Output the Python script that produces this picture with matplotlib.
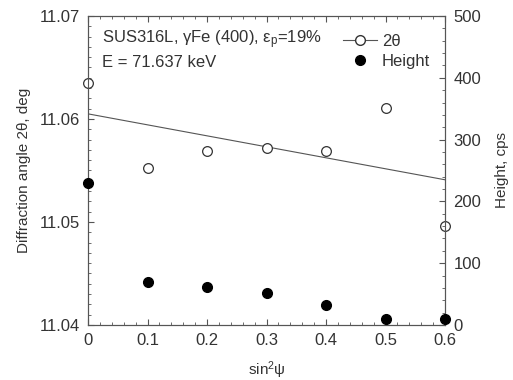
import numpy as np
import matplotlib.pyplot as plt
from matplotlib.ticker import MultipleLocator
from matplotlib.lines import Line2D

plt.rcParams['font.family'] = ['Liberation Sans', 'DejaVu Sans']
plt.rcParams['mathtext.fontset'] = 'custom'
plt.rcParams['mathtext.rm'] = 'Liberation Sans'
plt.rcParams['mathtext.it'] = 'Liberation Sans'

sin2psi = [0.0, 0.1, 0.2, 0.3, 0.4, 0.5, 0.6]
two_theta = [11.0635, 11.0552, 11.0569, 11.0572, 11.0569, 11.0611, 11.0496]
height = [230, 69, 61, 51, 32, 10, 9]
fit_x = [0.0, 0.6]
fit_y = [11.0605, 11.0541]

ink = '#333333'
fs = 12

fig = plt.figure(figsize=(5.13, 3.80), dpi=100)
ax = fig.add_axes([88 / 513, 55 / 380, 357 / 513, 309 / 380])
ax2 = ax.twinx()

ax.plot(fit_x, fit_y, color='#555555', lw=0.8)
ax.plot(sin2psi, two_theta, 'o', ms=7, mfc='white', mec=ink, mew=0.9, clip_on=False, zorder=5)
ax2.plot(sin2psi, height, 'o', ms=7, mfc='black', mec='black', clip_on=False, zorder=5)

ax.set_xlim(0, 0.6)
ax.set_ylim(11.04, 11.07)
ax2.set_ylim(0, 500)

ax.xaxis.set_major_locator(MultipleLocator(0.1))
ax.xaxis.set_minor_locator(MultipleLocator(0.02))
ax.yaxis.set_major_locator(MultipleLocator(0.01))
ax.yaxis.set_minor_locator(MultipleLocator(0.001))
ax2.yaxis.set_major_locator(MultipleLocator(100))
ax2.yaxis.set_minor_locator(MultipleLocator(20))

ax.set_xticks([0, 0.1, 0.2, 0.3, 0.4, 0.5, 0.6])
ax.set_xticklabels(['0', '0.1', '0.2', '0.3', '0.4', '0.5', '0.6'])
ax.set_yticks([11.04, 11.05, 11.06, 11.07])
ax.set_yticklabels(['11.04', '11.05', '11.06', '11.07'])

for a in (ax, ax2):
    for s in a.spines.values():
        s.set_color('#555555')
        s.set_linewidth(0.8)
    a.tick_params(which='both', direction='in', colors='#555555', labelcolor=ink, labelsize=fs, pad=6)
    a.tick_params(which='major', length=4)
    a.tick_params(which='minor', length=2.5)
ax.tick_params(which='both', top=True, right=False)
ax2.tick_params(which='both', left=False, right=True)

ax.set_xlabel(r'sin$^2\psi$', fontsize=11, color=ink, labelpad=8)
ax.set_ylabel('Diffraction angle 2θ, deg', fontsize=11, color=ink, labelpad=6)
ax2.set_ylabel('Height, cps', fontsize=11, color=ink, labelpad=10)

ax.text(0.04, 0.96, r'SUS316L, $\gamma$Fe (400), ε$_\mathrm{p}$=19%', transform=ax.transAxes,
        fontsize=fs, color=ink, va='top')
ax.text(0.04, 0.875, 'E = 71.637 keV', transform=ax.transAxes, fontsize=fs, color=ink, va='top')

handles = [Line2D([0], [0], color='#555555', lw=0.8, marker='o', ms=7, mfc='white', mec=ink, label='2θ'),
           Line2D([0], [0], ls='none', marker='o', ms=7, mfc='black', mec='black', label='Height')]
ax.legend(handles=handles, loc='upper right', bbox_to_anchor=(1.0, 0.99), frameon=False, fontsize=fs,
          handlelength=2.0, handletextpad=0.3, labelspacing=0.3, labelcolor=ink)

fig.savefig('out.png', dpi=100)
